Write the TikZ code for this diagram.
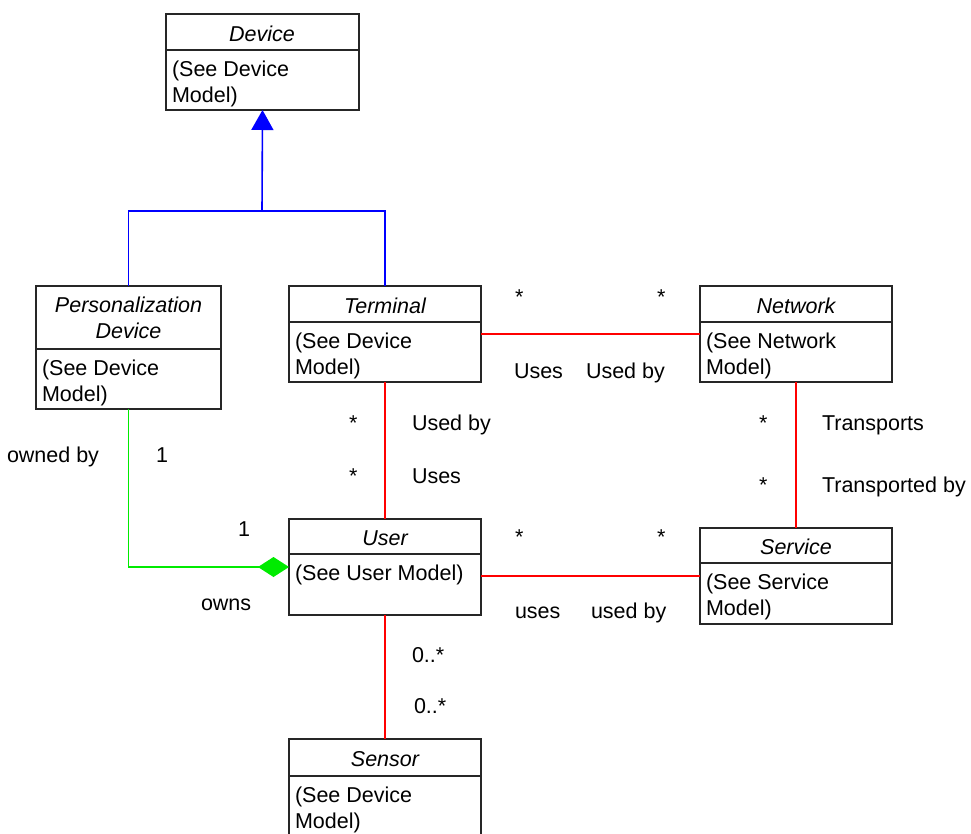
\documentclass[tikz,border=0pt]{standalone}
\usepackage{fontspec}
\setmainfont{Liberation Sans}
\usetikzlibrary{arrows.meta}

\definecolor{aggrgreen}{RGB}{0,235,0}

\begin{document}
\begin{tikzpicture}[x=1pt, y=-1pt,
  every node/.style={font=\fontsize{21.5}{26}\selectfont, inner sep=0pt, outer sep=0pt},
  classbox/.style={draw=black!85, line width=1.2pt, rectangle, anchor=north west,
                   minimum width=193pt, minimum height=96pt},
  divider/.style={draw=black!85, line width=1.2pt},
  classname/.style={font=\fontsize{21.5}{26}\selectfont\itshape, anchor=base, align=center},
  members/.style={anchor=north west, align=left},
  rolelabel/.style={anchor=base west},
  gen/.style={draw=blue, line width=1.6pt},
  assoc/.style={draw=red, line width=1.6pt},
  aggr/.style={draw=aggrgreen, line width=1.6pt},
]
\useasboundingbox (0,0) rectangle (971,833);

% ---------------- classes ----------------
% Device
\node[classbox] (dev) at (166,14) {};
\draw[divider] (dev.west |- 0,50) -- (dev.east |- 0,50);
\node[classname] (devname) at (262,41) {Device};
\node[members] (devbody) at (172,61.35) {(See Device\\Model)};

% Personalization Device
\node[classbox, minimum width=185pt, minimum height=123pt] (pers) at (36,286) {};
\draw[divider] (pers.west |- 0,349) -- (pers.east |- 0,349);
\node[classname, anchor=north] (persname) at (128.5,296.6) {Personalization\\Device};
\node[members] (persbody) at (42,360.35) {(See Device\\Model)};

% Terminal
\node[classbox, minimum width=192pt] (term) at (289,286) {};
\draw[divider] (term.west |- 0,322) -- (term.east |- 0,322);
\node[classname] (termname) at (385,313) {Terminal};
\node[members] (termbody) at (295,333.35) {(See Device\\Model)};

% Network
\node[classbox, minimum width=192pt] (net) at (700,286) {};
\draw[divider] (net.west |- 0,322) -- (net.east |- 0,322);
\node[classname] (netname) at (796,313) {Network};
\node[members] (netbody) at (706,333.35) {(See Network\\Model)};

% User
\node[classbox, minimum width=192pt] (user) at (289,519) {};
\draw[divider] (user.west |- 0,554) -- (user.east |- 0,554);
\node[classname] (username) at (385,545) {User};
\node[members] (userbody) at (295,565.35) {(See User Model)};

% Service
\node[classbox, minimum width=192pt, minimum height=96pt] (serv) at (700,528) {};
\draw[divider] (serv.west |- 0,563) -- (serv.east |- 0,563);
\node[classname] (servname) at (796,554) {Service};
\node[members] (servbody) at (706,574.35) {(See Service\\Model)};

% Sensor
\node[classbox, minimum width=192pt] (sens) at (289,739) {};
\draw[divider] (sens.west |- 0,776) -- (sens.east |- 0,776);
\node[classname] (sensname) at (385,766) {Sensor};
\node[members] (sensbody) at (295,787.35) {(See Device\\Model)};

% ---------------- generalization ----------------
\coordinate (genjoin) at (262,211);
\draw[gen] (pers.north) |- (genjoin) -| (term.north);
\draw[gen, -{Triangle[length=20pt, width=22pt]}] (genjoin) -- (dev.south);

% ---------------- aggregation ----------------
\draw[aggr, -{Diamond[length=31pt, width=20pt, fill=aggrgreen]}]
  (pers.south) |- (user.west);

% ---------------- associations ----------------
\draw[assoc] (term.east) -- (net.west);
\draw[assoc] (term.south) -- (user.north);
\draw[assoc] (net.south) -- (serv.north);
\draw[assoc] (user.east |- serv.west) -- (serv.west);
\draw[assoc] (user.south) -- (sens.north);

% ---------------- role names and multiplicities ----------------
\node[rolelabel] (m1) at (515,304) {*};
\node[rolelabel] (m2) at (657,304) {*};
\node[rolelabel] (r1) at (514,378) {Uses};
\node[rolelabel] (r2) at (586,378) {Used by};

\node[rolelabel] (m3) at (349,430) {*};
\node[rolelabel] (r3) at (412,430) {Used by};
\node[rolelabel] (m4) at (349,483) {*};
\node[rolelabel] (r4) at (412,483) {Uses};

\node[rolelabel] (m5) at (759,430) {*};
\node[rolelabel] (r5) at (822,430) {Transports};
\node[rolelabel] (m6) at (759,492) {*};
\node[rolelabel] (r6) at (822,492) {Transported by};

\node[rolelabel] (m7) at (515,544) {*};
\node[rolelabel] (m8) at (657,544) {*};
\node[rolelabel] (r7) at (515,618) {uses};
\node[rolelabel] (r8) at (591,618) {used by};

\node[rolelabel] (m9) at (412,662) {0..*};
\node[rolelabel] (m10) at (414,713) {0..*};

\node[rolelabel] (r9) at (7,462) {owned by};
\node[rolelabel] (m11) at (156,462) {1};
\node[rolelabel] (m12) at (238,536) {1};
\node[rolelabel] (r10) at (201,610) {owns};
\end{tikzpicture}
\end{document}
